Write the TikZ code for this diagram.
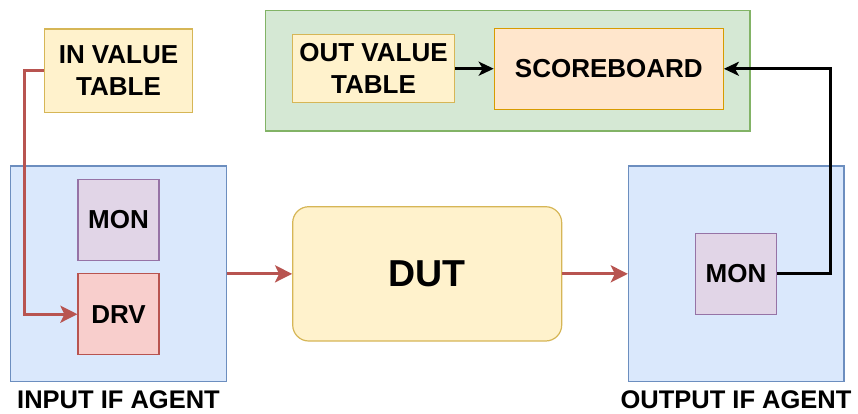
\documentclass[tikz,border=0pt]{standalone}
\usepackage{fontspec}
\setmainfont{Liberation Sans}
\usetikzlibrary{arrows.meta}
\definecolor{bluefill}{HTML}{DAE8FC}\definecolor{bluedraw}{HTML}{6C8EBF}
\definecolor{yelfill}{HTML}{FFF2CC}\definecolor{yeldraw}{HTML}{D6B656}
\definecolor{grnfill}{HTML}{D5E8D4}\definecolor{grndraw}{HTML}{82B366}
\definecolor{purfill}{HTML}{E1D5E7}\definecolor{purdraw}{HTML}{9673A6}
\definecolor{redfill}{HTML}{F8CECC}\definecolor{reddraw}{HTML}{B85450}
\definecolor{orafill}{HTML}{FFE6CC}\definecolor{oradraw}{HTML}{D79B00}
\tikzset{
  box/.style={rectangle, draw, line width=1.2pt, inner sep=0pt, align=center,
    font=\fontsize{26}{31.7}\selectfont\bfseries},
  agentbox/.style={box, fill=bluefill, draw=bluedraw, minimum width=215.5pt, minimum height=215.7pt},
  yelbox/.style={box, fill=yelfill, draw=yeldraw},
  monbox/.style={box, fill=purfill, draw=purdraw, minimum width=81pt, minimum height=81.4pt},
  drvbox/.style={box, fill=redfill, draw=reddraw, minimum width=81pt, minimum height=81pt},
  grnbox/.style={box, fill=grnfill, draw=grndraw},
  orabox/.style={box, fill=orafill, draw=oradraw},
  lbl/.style={inner sep=0pt, font=\fontsize{25.5}{30}\selectfont\bfseries},
  redarrow/.style={draw=reddraw, line width=3pt, -{Stealth[length=17pt,width=17pt,inset=4pt]}},
  blkarrow/.style={draw=black, line width=3pt, -{Stealth[length=15pt,width=14pt,inset=4pt]}},
}
\begin{document}
\begin{tikzpicture}[x=1pt,y=-1pt]
\useasboundingbox (0,0) rectangle (858,414);
% top left
\node[yelbox, minimum width=148.4pt, minimum height=83.7pt] (invt) at (118.5,70.85) {IN VALUE\\TABLE};
% green group
\node[grnbox, minimum width=484.3pt, minimum height=120.3pt] (grp) at (507.85,70.85) {};
\node[yelbox, minimum width=161.6pt, minimum height=68pt] (outvt) at (373.5,68.7) {OUT VALUE\\TABLE};
\node[orabox, minimum width=229pt, minimum height=81pt] (sb) at (608.8,68.8) {SCOREBOARD};
% agents
\node[agentbox] (inag) at (118.5,273.85) {};
\node[monbox] (inmon) at (118.5,220) {MON};
\node[drvbox] (drv) at (118.5,314.2) {DRV};
\node[lbl] (inlbl) at (118.5,400) {INPUT IF AGENT};
\node[box, rounded corners=16pt, fill=yelfill, draw=yeldraw, minimum width=269pt, minimum height=134.3pt,
      font=\fontsize{37.5}{40}\selectfont\bfseries] (dut) at (427.2,273.85) {DUT};
\node[agentbox] (outag) at (736.15,273.85) {};
\node[monbox] (outmon) at (736,273.8) {MON};
\node[lbl] (outlbl) at (736,400) {OUTPUT IF AGENT};
% connectors
\coordinate (c1) at (24,70.7);
\coordinate (c2) at (24,314.2);
\draw[redarrow] (invt.west |- c1) -- (c1) -- (c2) -- (drv.west);
\draw[redarrow] (inag.east) -- (dut.west);
\draw[redarrow] (dut.east) -- (outag.west);
\draw[blkarrow] (outvt.east) -- (sb.west |- outvt.east);
\coordinate (c3) at (830,273.8);
\coordinate (c4) at (830,68.8);
\draw[blkarrow] (outmon.east) -- (c3) -- (c4) -- (sb.east);
\end{tikzpicture}
\end{document}
